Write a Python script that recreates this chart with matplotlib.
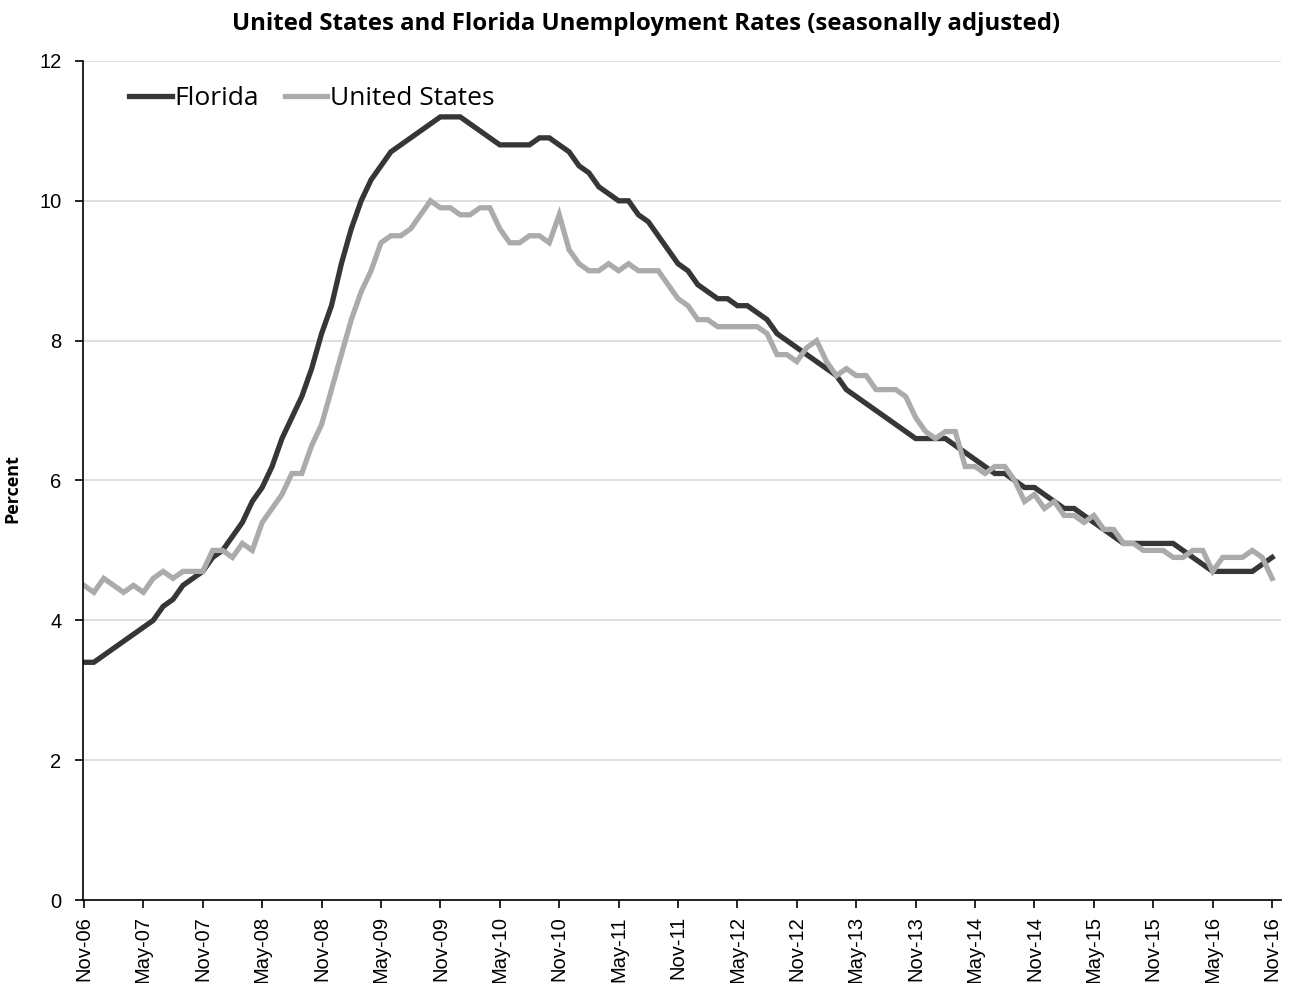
import numpy as np
import matplotlib.pyplot as plt

# monthly values, Nov-06 .. Nov-16 (121 months)
florida = [3.4, 3.4, 3.5, 3.6, 3.7, 3.8, 3.9, 4.0, 4.2, 4.3, 4.5, 4.6,
           4.7, 4.9, 5.0, 5.2, 5.4, 5.7, 5.9, 6.2, 6.6, 6.9, 7.2, 7.6,
           8.1, 8.5, 9.1, 9.6, 10.0, 10.3, 10.5, 10.7, 10.8, 10.9, 11.0, 11.1,
           11.2, 11.2, 11.2, 11.1, 11.0, 10.9, 10.8, 10.8, 10.8, 10.8, 10.9, 10.9,
           10.8, 10.7, 10.5, 10.4, 10.2, 10.1, 10.0, 10.0, 9.8, 9.7, 9.5, 9.3,
           9.1, 9.0, 8.8, 8.7, 8.6, 8.6, 8.5, 8.5, 8.4, 8.3, 8.1, 8.0,
           7.9, 7.8, 7.7, 7.6, 7.5, 7.3, 7.2, 7.1, 7.0, 6.9, 6.8, 6.7,
           6.6, 6.6, 6.6, 6.6, 6.5, 6.4, 6.3, 6.2, 6.1, 6.1, 6.0, 5.9,
           5.9, 5.8, 5.7, 5.6, 5.6, 5.5, 5.4, 5.3, 5.2, 5.1, 5.1, 5.1,
           5.1, 5.1, 5.1, 5.0, 4.9, 4.8, 4.7, 4.7, 4.7, 4.7, 4.7, 4.8,
           4.9]
united_states = [4.5, 4.4, 4.6, 4.5, 4.4, 4.5, 4.4, 4.6, 4.7, 4.6, 4.7, 4.7,
                 4.7, 5.0, 5.0, 4.9, 5.1, 5.0, 5.4, 5.6, 5.8, 6.1, 6.1, 6.5,
                 6.8, 7.3, 7.8, 8.3, 8.7, 9.0, 9.4, 9.5, 9.5, 9.6, 9.8, 10.0,
                 9.9, 9.9, 9.8, 9.8, 9.9, 9.9, 9.6, 9.4, 9.4, 9.5, 9.5, 9.4,
                 9.8, 9.3, 9.1, 9.0, 9.0, 9.1, 9.0, 9.1, 9.0, 9.0, 9.0, 8.8,
                 8.6, 8.5, 8.3, 8.3, 8.2, 8.2, 8.2, 8.2, 8.2, 8.1, 7.8, 7.8,
                 7.7, 7.9, 8.0, 7.7, 7.5, 7.6, 7.5, 7.5, 7.3, 7.3, 7.3, 7.2,
                 6.9, 6.7, 6.6, 6.7, 6.7, 6.2, 6.2, 6.1, 6.2, 6.2, 6.0, 5.7,
                 5.8, 5.6, 5.7, 5.5, 5.5, 5.4, 5.5, 5.3, 5.3, 5.1, 5.1, 5.0,
                 5.0, 5.0, 4.9, 4.9, 5.0, 5.0, 4.7, 4.9, 4.9, 4.9, 5.0, 4.9,
                 4.6]
tick_labels = ["Nov-06", "May-07", "Nov-07", "May-08", "Nov-08", "May-09", "Nov-09",
               "May-10", "Nov-10", "May-11", "Nov-11", "May-12", "Nov-12", "May-13",
               "Nov-13", "May-14", "Nov-14", "May-15", "Nov-15", "May-16", "Nov-16"]

months = np.arange(len(florida))

fig = plt.figure(figsize=(12.92, 9.83), dpi=100)
ax = fig.add_axes([0.0642, 0.0844, 0.9273, 0.8536])

ax.plot(months, florida, color="#363636", lw=3.8, solid_joinstyle="miter", label="Florida")
ax.plot(months, united_states, color="#ababab", lw=3.8, solid_joinstyle="miter", label="United States")

ax.set_xlim(-0.1, 120.9)
ax.set_ylim(0, 12)
ax.set_yticks(range(0, 13, 2))
ax.set_xticks(range(0, 121, 6))
ax.set_xticklabels(tick_labels, rotation=90, fontsize=14.5, family="Liberation Sans")
for lbl in ax.get_yticklabels():
    lbl.set_fontsize(14.5)
    lbl.set_family("Liberation Sans")
ax.grid(axis="y", color="#d9d9d9", lw=1.2)
ax.set_axisbelow(True)
for s in ["top", "right"]:
    ax.spines[s].set_visible(False)
ax.spines["left"].set_linewidth(1.2)
ax.spines["bottom"].set_linewidth(1.2)
ax.tick_params(axis="both", direction="out", length=5.5, width=1.2)
ax.tick_params(axis="y", pad=10)
ax.tick_params(axis="x", pad=6)

ax.set_ylabel("Percent", fontsize=13, fontweight="bold", family="Open Sans")
ax.yaxis.set_label_coords(-0.051, 0.49)
fig.suptitle("United States and Florida Unemployment Rates (seasonally adjusted)",
             x=0.5, y=0.988, fontsize=17.3, fontweight="bold", family="Open Sans")

ax.legend(loc="upper left", bbox_to_anchor=(0.019, 0.998), ncol=2, frameon=False,
          handlelength=1.6, handletextpad=0.1, columnspacing=1.0,
          prop={"family": "Open Sans", "size": 19})

fig.savefig("out.png", dpi=100)
